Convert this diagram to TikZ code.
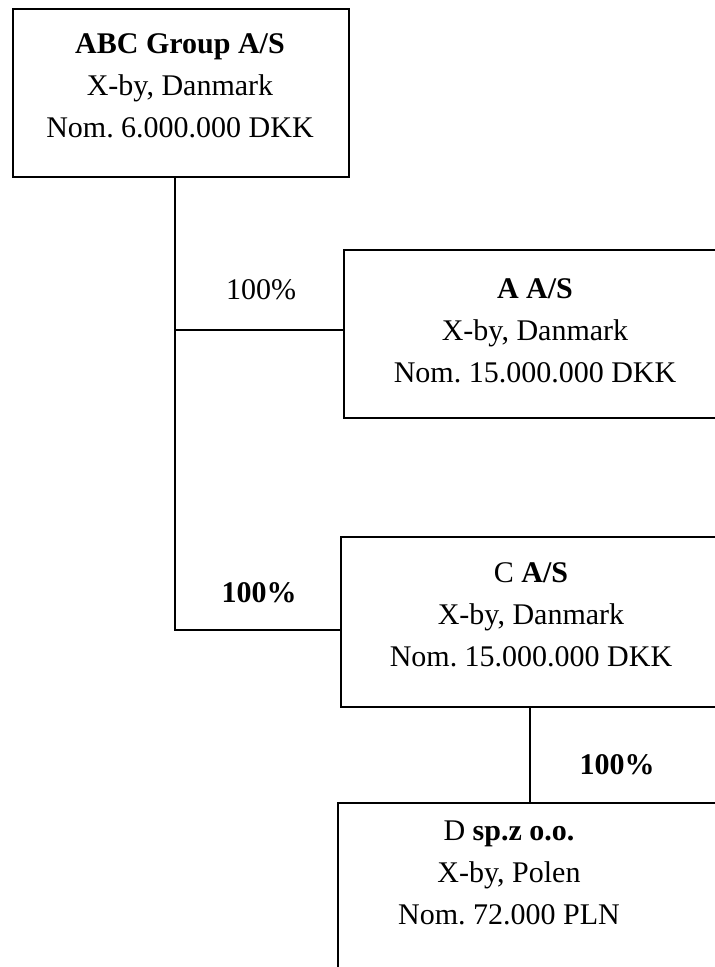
\documentclass[tikz,border=0pt]{standalone}
\usepackage{fontspec}
\setmainfont{Liberation Serif}
\frenchspacing
\begin{document}
\begin{tikzpicture}[x=1pt,y=-1pt,
  box/.style={draw, line width=2pt, rectangle, anchor=north west, inner sep=0pt},
  txt/.style={align=center, inner sep=0pt, font=\fontsize{30}{42}\selectfont},
  pct/.style={inner sep=0pt, font=\fontsize{30}{36}\selectfont},
  conn/.style={line width=2pt}]
\useasboundingbox (0,0) rectangle (715,967);
\clip (0,0) rectangle (715,967);
% boxes
\node[box, minimum width=336pt, minimum height=168pt] (top) at (12,8) {};
\node[box, minimum width=384pt, minimum height=168pt] (A) at (343,249) {};
\node[box, minimum width=384pt, minimum height=170pt] (C) at (340,536) {};
\node[box, minimum width=390pt, minimum height=220pt] (D) at (337,802) {};
% texts
\node[txt] (toptxt) at (180,86) {\textbf{ABC Group A/S}\\X-by, Danmark\\Nom. 6.000.000 DKK};
\node[txt] (Atxt) at (535,331) {\textbf{A A/S}\\X-by, Danmark\\Nom. 15.000.000 DKK};
\node[txt] (Ctxt) at (531,615) {C \textbf{A/S}\\X-by, Danmark\\Nom. 15.000.000 DKK};
\node[txt] (Dtxt) at (509,873) {D \textbf{sp.z o.o.}\\X-by, Polen\\Nom. 72.000 PLN};
% percentages
\node[pct] (pA) at (261,290) {100\%};
\node[pct] (pC) at (259,593) {\textbf{100\%}};
\node[pct] (pD) at (617,765) {\textbf{100\%}};
% connectors
\coordinate (ba) at (175,330);
\coordinate (bc) at (175,630);
\coordinate (dx) at (530,0);
\draw[conn] (top.south -| ba) -- (bc) -- (bc -| C.west);
\draw[conn] (ba) -- (ba -| A.west);
\draw[conn] (C.south -| dx) -- (D.north -| dx);
\end{tikzpicture}
\end{document}
